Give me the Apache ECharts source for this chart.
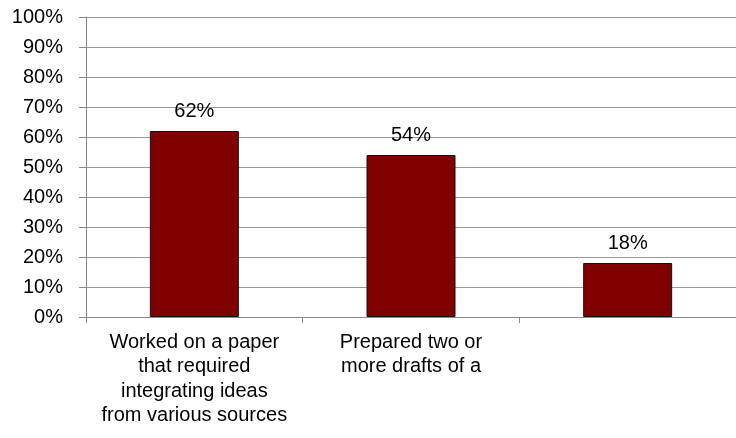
<!DOCTYPE html>
<html><head><meta charset="utf-8">
<script src="https://cdn.jsdelivr.net/npm/echarts@6/dist/echarts.min.js"></script>
<style>html,body{margin:0;padding:0;background:#fff}#c{width:736px;height:438px}</style>
</head><body><div id="c"></div>
<script>
var categories = ["Worked on a paper\nthat required\nintegrating ideas\nfrom various sources", "Prepared two or\nmore drafts of a", ""];
var values = [62, 54, 18];
var yTicks = {min: 0, max: 100, interval: 10};

var chart = echarts.init(document.getElementById('c'), null, {renderer: 'canvas'});
var font = 'Liberation Sans, Arial, sans-serif';
chart.setOption({
  animation: false,
  grid: {left: 86, right: 0, top: 17, bottom: 121, containLabel: false},
  xAxis: {
    type: 'category', data: categories,
    axisLine: {lineStyle: {color: '#888', width: 1}},
    axisTick: {show: true, alignWithLabel: false, length: 6, lineStyle: {color: '#888'}},
    axisLabel: {interval: 0, color: '#000', fontFamily: font, fontSize: 20, lineHeight: 24.5, margin: 13, align: 'center'}
  },
  yAxis: {
    type: 'value', min: yTicks.min, max: yTicks.max, interval: yTicks.interval,
    axisLine: {show: true, lineStyle: {color: '#888', width: 1}},
    axisTick: {show: true, length: 7, lineStyle: {color: '#888'}},
    splitLine: {show: true, lineStyle: {color: '#999', width: 1}},
    axisLabel: {formatter: '{value}%', color: '#000', fontFamily: font, fontSize: 20, margin: 23}
  },
  series: [{
    type: 'bar', data: values, barWidth: 89,
    itemStyle: {color: '#800000', borderColor: '#111', borderWidth: 1},
    label: {show: true, position: 'top', distance: 10, formatter: '{c}%', color: '#000', fontFamily: font, fontSize: 20}
  }]
});
</script></body></html>
